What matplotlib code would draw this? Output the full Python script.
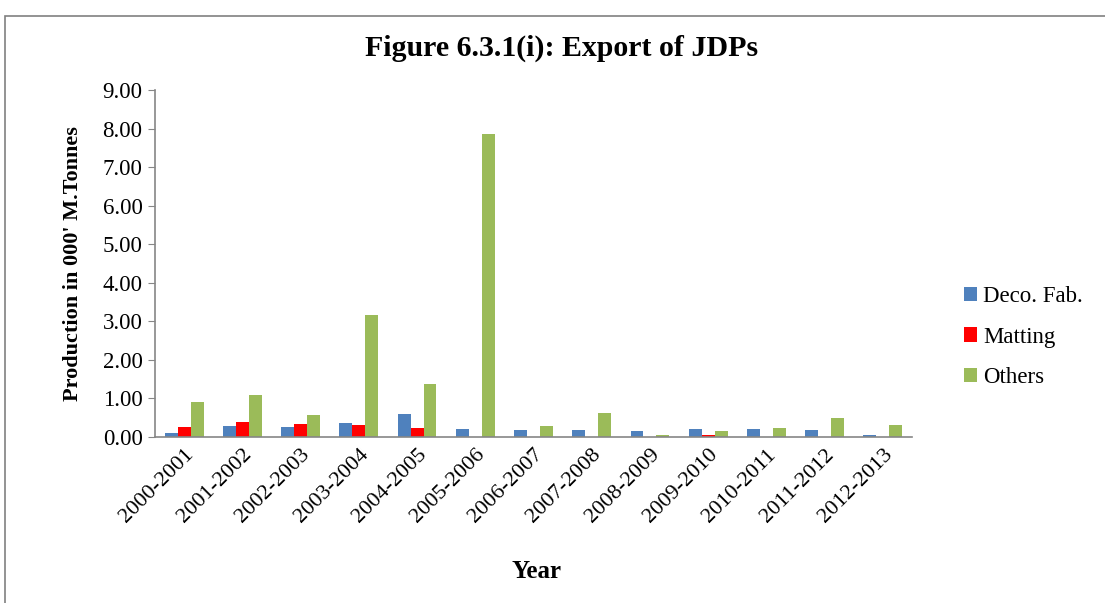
import numpy as np
import matplotlib.pyplot as plt
from matplotlib.patches import Rectangle

years = ["2000-2001", "2001-2002", "2002-2003", "2003-2004", "2004-2005",
         "2005-2006", "2006-2007", "2007-2008", "2008-2009", "2009-2010",
         "2010-2011", "2011-2012", "2012-2013"]
deco_fab = [0.10, 0.29, 0.26, 0.37, 0.60, 0.22, 0.17, 0.17, 0.15, 0.22, 0.22, 0.17, 0.06]
matting = [0.26, 0.38, 0.35, 0.32, 0.23, 0.0, 0.0, 0.0, 0.0, 0.04, 0.0, 0.0, 0.0]
others = [0.92, 1.09, 0.57, 3.17, 1.37, 7.85, 0.29, 0.63, 0.06, 0.15, 0.23, 0.50, 0.31]

plt.rcParams['font.family'] = ['Liberation Serif', 'DejaVu Serif']

fig = plt.figure(figsize=(11.05, 6.03), dpi=100)
ax = fig.add_axes([155 / 1105, 1 - 437 / 603, (912 - 155) / 1105, (437 - 90) / 603])

# outer frame like the pasted excel chart
fig.patches.append(Rectangle((5 / 1105, -0.01), 1.02, 1 - 16 / 603 + 0.01,
                             transform=fig.transFigure, fill=False,
                             edgecolor='#808080', linewidth=1.2))

x = np.arange(len(years))
w = 0.222
ax.bar(x - w, deco_fab, w, color='#4F81BD', label='Deco. Fab.')
ax.bar(x, matting, w, color='#FF0000', label='Matting')
ax.bar(x + w, others, w, color='#9BBB59', label='Others')

ax.set_xlim(-0.5, len(years) - 0.5)
ax.set_ylim(0, 9)
ax.set_yticks(np.arange(0, 9.01, 1))
ax.set_yticklabels([f"{v:.2f}" for v in np.arange(0, 9.01, 1)], fontsize=16.5)
ax.set_xticks(x)
ax.set_xticklabels(years, rotation=45, ha='right', rotation_mode='anchor', fontsize=16)
ax.tick_params(axis='x', length=0, pad=6)
ax.tick_params(axis='y', length=5, color='#868686', pad=4)

for s in ['top', 'right']:
    ax.spines[s].set_visible(False)
for s in ['left', 'bottom']:
    ax.spines[s].set_color('#868686')
    ax.spines[s].set_linewidth(1.2)

ax.set_ylabel("Production in 000' M.Tonnes", fontsize=16, fontweight='bold', labelpad=14)
fig.text(536 / 1105, 1 - 572 / 603, "Year", ha='center', va='center',
         fontsize=18, fontweight='bold')
fig.text(562 / 1105, 1 - 48 / 603, "Figure 6.3.1(i): Export of JDPs", ha='center',
         va='center', fontsize=21.5, fontweight='bold')

fig.legend(loc='center left', bbox_to_anchor=(943 / 1105, 1 - 337 / 603),
           frameon=False, fontsize=16.5, handlelength=0.6, handleheight=0.6,
           handletextpad=0.25, labelspacing=0.85)

fig.savefig("out.png", dpi=100)
